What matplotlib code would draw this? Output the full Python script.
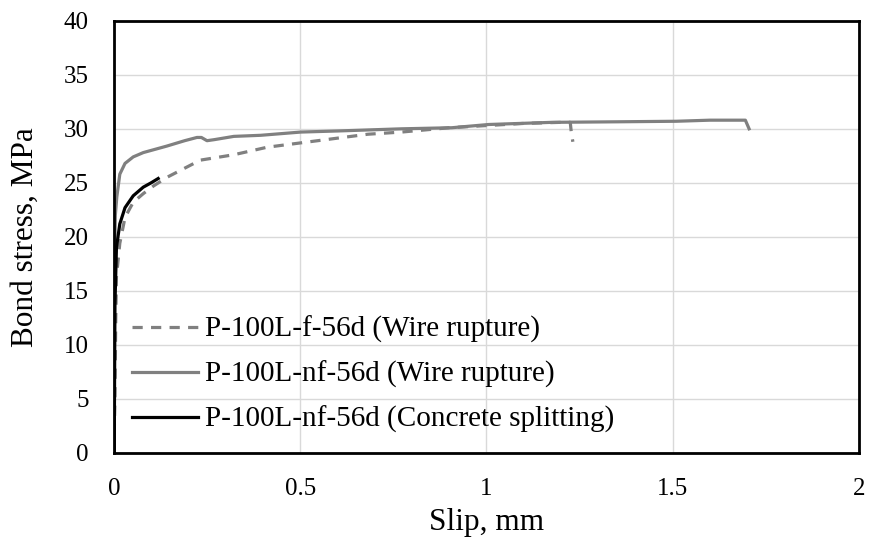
import matplotlib
matplotlib.use("Agg")
import matplotlib.pyplot as plt

# Bond stress–slip curves
slip_f = [0.0, 0.003, 0.005, 0.007, 0.016, 0.030, 0.052, 0.079, 0.106, 0.142,
          0.187, 0.232, 0.322, 0.412, 0.502, 0.592, 0.682, 0.772, 0.90, 1.00,
          1.10, 1.20, 1.225, 1.228, 1.232]
stress_f = [0.0, 5.0, 12.0, 16.3, 19.4, 21.8, 23.2, 24.0, 24.7, 25.5,
            26.3, 27.1, 27.6, 28.3, 28.7, 29.1, 29.5, 29.7, 30.1, 30.3,
            30.5, 30.6, 30.6, 29.6, 28.8]

slip_nf = [0.0, 0.001, 0.002, 0.004, 0.008, 0.016, 0.030, 0.052, 0.079, 0.142,
           0.19, 0.223, 0.235, 0.25, 0.27, 0.322, 0.394, 0.502, 0.60, 0.772,
           0.907, 1.006, 1.176, 1.35, 1.51, 1.60, 1.67, 1.695, 1.70, 1.705]
stress_nf = [0.0, 10.0, 18.0, 22.0, 23.7, 25.8, 26.8, 27.4, 27.8, 28.4,
             28.9, 29.2, 29.2, 28.9, 29.0, 29.3, 29.4, 29.7, 29.8, 30.0,
             30.1, 30.4, 30.6, 30.65, 30.7, 30.8, 30.8, 30.8, 30.4, 30.0]

slip_cs = [0.001, 0.002, 0.003, 0.007, 0.016, 0.030, 0.052, 0.079, 0.100, 0.119]
stress_cs = [0.0, 7.0, 13.8, 19.0, 21.2, 22.7, 23.8, 24.6, 25.0, 25.4]

labels = ["P-100L-f-56d (Wire rupture)",
          "P-100L-nf-56d (Wire rupture)",
          "P-100L-nf-56d (Concrete splitting)"]

x_ticks = [0, 0.5, 1, 1.5, 2]
x_tick_labels = ["0", "0.5", "1", "1.5", "2"]
y_ticks = [0, 5, 10, 15, 20, 25, 30, 35, 40]

plt.rcParams['font.family'] = ['Liberation Serif', 'DejaVu Serif']

fig = plt.figure(figsize=(8.69, 5.47), dpi=100)
ax = fig.add_axes([0.131, 0.172, 0.8575, 0.79])

gray = "#808080"
ax.plot(slip_f, stress_f, color=gray, lw=2.3, ls=(0, (3.2, 2.6)), label=labels[0])
ax.plot(slip_nf, stress_nf, color=gray, lw=2.3, label=labels[1])
ax.plot(slip_cs, stress_cs, color="black", lw=2.3, label=labels[2])

ax.set_xlim(0, 2)
ax.set_ylim(0, 40)
ax.set_xticks(x_ticks)
ax.set_xticklabels(x_tick_labels)
ax.set_yticks(y_ticks)
ax.grid(True, color="#d9d9d9", lw=1)
ax.set_axisbelow(True)
for s in ax.spines.values():
    s.set_color("black")
    s.set_linewidth(2)
ax.tick_params(axis="both", length=0, labelsize=18)
ax.tick_params(axis="x", pad=18)
ax.tick_params(axis="y", pad=18)

ax.set_xlabel("Slip, mm", fontsize=22.5, labelpad=6)
ax.set_ylabel("Bond stress, MPa", fontsize=22.5, labelpad=17)

ax.legend(loc="lower left", bbox_to_anchor=(0.024, 0.045), frameon=False,
          fontsize=21, handlelength=2.26, handletextpad=0.24,
          labelspacing=0.61, borderaxespad=0.0, borderpad=0.0)

fig.savefig("out.png", dpi=100)
